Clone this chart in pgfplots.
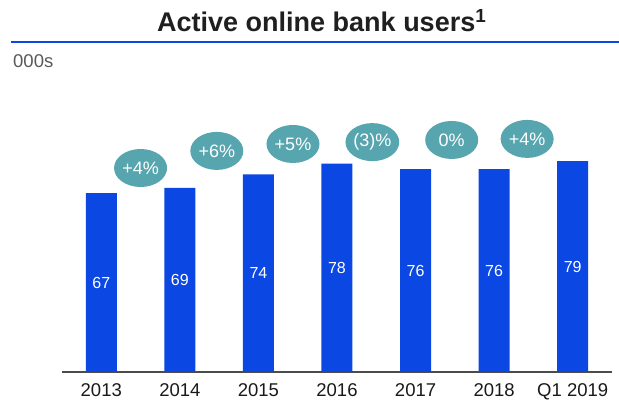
\documentclass[border=0pt]{standalone}
\usepackage{pgfplots}
\pgfplotsset{compat=1.18}
\usetikzlibrary{shapes.geometric}
\usepackage{fontspec}
\setmainfont{Liberation Sans}
\definecolor{barblue}{HTML}{0B47E2}
\definecolor{bubteal}{HTML}{57A5AE}
\definecolor{txtgray}{HTML}{595959}
\begin{document}
\begin{tikzpicture}[x=1pt,y=1pt]
\path[use as bounding box] (0,0) rectangle (619,404);
\node[anchor=base west, inner sep=0, font=\fontsize{27}{30}\selectfont\bfseries, text=black!88] at (157,372.5) {Active online bank users\textsuperscript{1}};
\draw[barblue, line width=2pt] (11,361.5) -- (619,361.5);
\node[anchor=base west, inner sep=0, font=\fontsize{18.5}{20}\selectfont, text=txtgray] at (13,336) {000s};
\begin{axis}[
  at={(62pt,32pt)}, anchor=south west,
  scale only axis, width=550pt, height=267pt,
  xmin=-0.5, xmax=6.5, ymin=0, ymax=100,
  axis x line*=bottom, axis y line=none,
  x axis line style={black!70, line width=1.4pt, -},
  xtick={0,1,2,3,4,5,6},
  xticklabels={2013,2014,2015,2016,2017,2018,Q1 2019},
  major tick length=0pt,
  xticklabel style={font=\fontsize{18.5}{20}\selectfont, text=black!90, yshift=-8pt},
  /pgf/number format/assume math mode=true,
  clip=false,
]
\addplot[ybar, bar width=31pt, fill=barblue, draw=none] coordinates {
  (0,67) (1,69) (2,74) (3,78) (4,76) (5,76) (6,79)
};
\addplot[only marks, mark=none, nodes near coords, point meta=explicit symbolic,
  every node near coord/.style={anchor=center, text=white, font=\fontsize{16}{18}\selectfont}]
coordinates {
  (0,33.5) [67] (1,34.5) [69] (2,37) [74] (3,39) [78] (4,38) [76] (5,38) [76] (6,39.5) [79]
};
\addplot[only marks, mark=none, nodes near coords, point meta=explicit symbolic,
  every node near coord/.style={anchor=center, ellipse, fill=bubteal, inner sep=0pt,
    minimum width=53pt, minimum height=38pt, text=white, font=\fontsize{18}{20}\selectfont}]
coordinates {
  (0.5,76.4) [+4\%] (1.47,82.8) [+6\%] (2.44,85.4) [+5\%] (3.45,86.1) [(3)\%] (4.46,86.9) [0\%] (5.42,87.3) [+4\%]
};
\end{axis}
\end{tikzpicture}
\end{document}
